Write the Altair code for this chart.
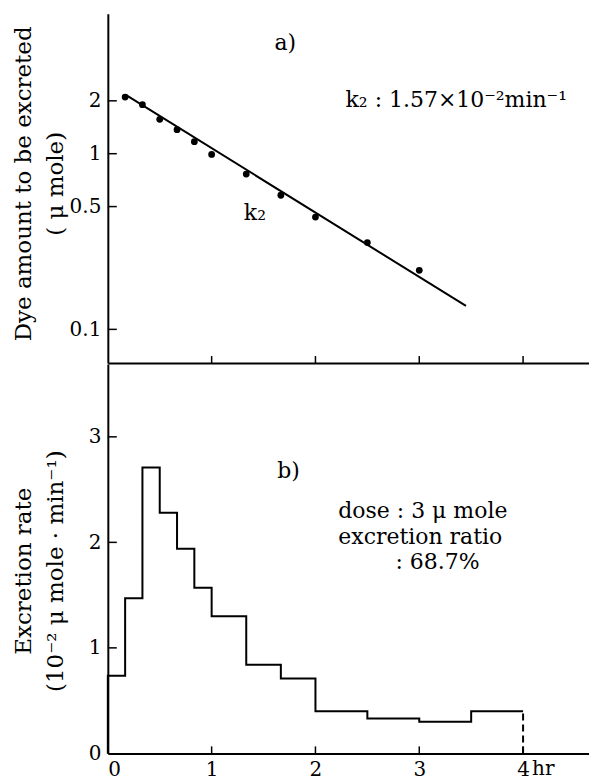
import altair as alt
import pandas as pd

FONT = "DejaVu Serif"

# ---------- Panel a: dye amount to be excreted (log scale) ----------
times_a = [1/6, 1/3, 0.5, 2/3, 5/6, 1.0, 4/3, 5/3, 2.0, 2.5, 3.0]
dye_amount = [2.10, 1.90, 1.57, 1.37, 1.17, 0.99, 0.766, 0.58, 0.436, 0.312, 0.217]
fit_times = [0.173, 3.45]
fit_values = [2.16, 0.136]
yticks_a = [0.1, 0.5, 1, 2]

# ---------- Panel b: excretion rate (step histogram) ----------
edges_b = [0, 1/6, 1/3, 0.5, 2/3, 5/6, 1.0, 4/3, 5/3, 2.0, 2.5, 3.0, 3.5, 4.0]
rates_b = [0.735, 1.47, 2.71, 2.28, 1.94, 1.57, 1.30, 0.84, 0.71, 0.40, 0.33, 0.30, 0.40]
yticks_b = [1, 2, 3]
xticks = [1, 2, 3, 4]
xlabels = [0, 1, 2, 3, 4]

W = 482
HA = 350
HB = 390
XMAX = 4.635
xscale = alt.Scale(domain=[0, XMAX], nice=False, zero=False)
yscale_a = alt.Scale(type="log", domain=[0.0643, 6.27], nice=False)
yscale_b = alt.Scale(domain=[0, 3.69], nice=False, zero=True)

df_pts = pd.DataFrame({"t": times_a, "v": dye_amount})
df_fit = pd.DataFrame({"t": fit_times, "v": fit_values})
df_yta = pd.DataFrame({"v": yticks_a})
df_xt = pd.DataFrame({"t": xticks})

step_t = [0.0] + edges_b[:-1] + [edges_b[-1]]
step_v = [0.0] + rates_b + [rates_b[-1]]
df_step = pd.DataFrame({"t": step_t, "v": step_v, "i": list(range(len(step_t)))})
df_dash = pd.DataFrame({"t": [edges_b[-1]], "v": [0.0], "v2": [rates_b[-1]]})
df_ytb = pd.DataFrame({"v": yticks_b})

text_style = dict(font=FONT, fontSize=22, color="black")

# ---------- top chart ----------
y_axis_a = alt.Axis(
    values=yticks_a, format="~g", ticks=False, labelPadding=7,
    labelFont=FONT, labelFontSize=20, labelColor="black",
    domainColor="black", domainWidth=2, grid=False,
    title=["Dye amount  to be excreted", "( μ mole)"],
    titleFont=FONT, titleFontSize=23, titleFontWeight="normal", titleColor="black",
    titleLineHeight=32, titleX=-84, titleY=170, titleAngle=-90,
    titleBaseline="middle", titleAlign="center",
)
x_axis_a = alt.Axis(labels=False, ticks=False, domainColor="black", domainWidth=2,
                    grid=False, title=None)

pts = alt.Chart(df_pts).mark_circle(size=46, color="black", opacity=1).encode(
    x=alt.X("t:Q", scale=xscale, axis=x_axis_a),
    y=alt.Y("v:Q", scale=yscale_a, axis=y_axis_a),
)
fit = alt.Chart(df_fit).mark_line(color="black", strokeWidth=2).encode(
    x=alt.X("t:Q", scale=xscale), y=alt.Y("v:Q", scale=yscale_a)
)
ytick_a = alt.Chart(df_yta).mark_rule(color="black", strokeWidth=1.5).encode(
    y=alt.Y("v:Q", scale=yscale_a), x=alt.value(0), x2=alt.value(9)
)
xtick_a = alt.Chart(df_xt).mark_rule(color="black", strokeWidth=1.5).encode(
    x=alt.X("t:Q", scale=xscale), y=alt.value(HA), y2=alt.value(HA - 7)
)
lab_a = alt.Chart(pd.DataFrame({"t": [1.71], "v": [4.24], "s": ["a)"]})).mark_text(
    align="center", baseline="middle", **text_style
).encode(x=alt.X("t:Q", scale=xscale), y=alt.Y("v:Q", scale=yscale_a), text="s:N")
k_note = alt.Chart(pd.DataFrame({"t": [2.29], "v": [2.01], "s": ["k₂ : 1.57×10⁻²min⁻¹"]})).mark_text(
    align="left", baseline="middle", **text_style
).encode(x=alt.X("t:Q", scale=xscale), y=alt.Y("v:Q", scale=yscale_a), text="s:N")
k_lab = alt.Chart(pd.DataFrame({"t": [1.31], "v": [0.458], "s": ["k₂"]})).mark_text(
    align="left", baseline="middle", **text_style
).encode(x=alt.X("t:Q", scale=xscale), y=alt.Y("v:Q", scale=yscale_a), text="s:N")

top = alt.layer(pts, fit, ytick_a, xtick_a, lab_a, k_note, k_lab).properties(width=W, height=HA)

# ---------- bottom chart ----------
y_axis_b = alt.Axis(
    values=[0] + yticks_b, format="~g", ticks=False, labelPadding=7,
    labelFont=FONT, labelFontSize=20, labelColor="black",
    domainColor="black", domainWidth=2, grid=False,
    title=["Excretion  rate", "(10⁻²  μ mole · min⁻¹)"],
    titleFont=FONT, titleFontSize=23, titleFontWeight="normal", titleColor="black",
    titleLineHeight=32, titleX=-84, titleY=207, titleAngle=-90,
    titleBaseline="middle", titleAlign="center",
)
x_axis_b = alt.Axis(
    values=xlabels, format="~g", ticks=False, labelPadding=6,
    labelFont=FONT, labelFontSize=20, labelColor="black",
    domainColor="black", domainWidth=2, grid=False, title=None,
)

step = alt.Chart(df_step).mark_line(color="black", strokeWidth=2, interpolate="step-after").encode(
    x=alt.X("t:Q", scale=xscale, axis=x_axis_b),
    y=alt.Y("v:Q", scale=yscale_b, axis=y_axis_b),
    order="i:Q",
)
dash = alt.Chart(df_dash).mark_rule(color="black", strokeWidth=2, strokeDash=[7, 4]).encode(
    x=alt.X("t:Q", scale=xscale), y=alt.Y("v:Q", scale=yscale_b), y2="v2:Q"
)
ytick_b = alt.Chart(df_ytb).mark_rule(color="black", strokeWidth=1.5).encode(
    y=alt.Y("v:Q", scale=yscale_b), x=alt.value(0), x2=alt.value(9)
)
xtick_b = alt.Chart(df_xt).mark_rule(color="black", strokeWidth=1.5).encode(
    x=alt.X("t:Q", scale=xscale), y=alt.value(HB), y2=alt.value(HB - 7)
)
hr = alt.Chart(pd.DataFrame({"t": [4.0], "s": ["hr"]})).mark_text(
    align="left", baseline="top", dx=9, dy=6, font=FONT, fontSize=20, color="black"
).encode(x=alt.X("t:Q", scale=xscale), y=alt.value(HB), text="s:N")
lab_b = alt.Chart(pd.DataFrame({"t": [1.74], "v": [2.68], "s": ["b)"]})).mark_text(
    align="center", baseline="middle", **text_style
).encode(x=alt.X("t:Q", scale=xscale), y=alt.Y("v:Q", scale=yscale_b), text="s:N")
notes = alt.Chart(pd.DataFrame({
    "t": [2.22, 2.22, 2.77],
    "v": [2.30, 2.05, 1.81],
    "s": ["dose : 3  μ mole", "excretion  ratio", ": 68.7%"],
})).mark_text(align="left", baseline="middle", **text_style).encode(
    x=alt.X("t:Q", scale=xscale), y=alt.Y("v:Q", scale=yscale_b), text="s:N"
)

bottom = alt.layer(step, dash, ytick_b, xtick_b, hr, lab_b, notes).properties(width=W, height=HB)

chart = alt.vconcat(top, bottom, spacing=0).properties(
    padding={"left": 4, "top": 5, "right": 0, "bottom": 0},
    background="white",
).configure_view(stroke=None)

chart.save("out.html", embed_options={"renderer": "svg", "actions": False})
